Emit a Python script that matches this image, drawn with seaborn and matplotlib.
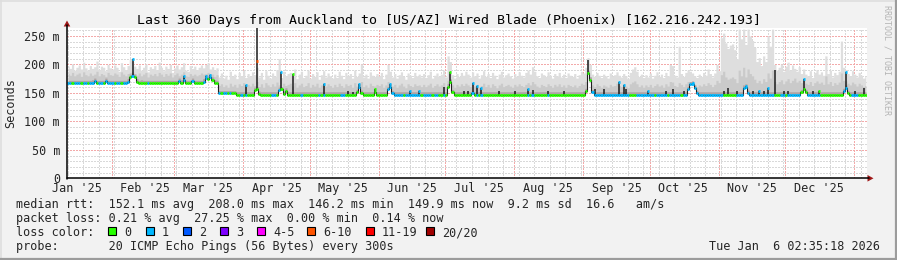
import matplotlib
matplotlib.use("Agg")
import matplotlib.pyplot as plt
import matplotlib.dates as mdates
from matplotlib.patches import Rectangle, Polygon
from matplotlib.lines import Line2D
import numpy as np
import pandas as pd
import seaborn as sns
from datetime import datetime, timedelta

# ---------------- data (one value per day, 360 days) ----------------
median_ms = [
    167,167,167,167,167,167,167,167,167,167,167,168,171,167,167,167,167,171,167,167,
    167,167,167,167,167,167,167,170,178,180,178,170,167,168,167,167,167,167,167,167,
    167,167,167,167,167,167,167,167,167,167,171,168,173,167,167,167,171,167,167,167,
    167,170,177,175,178,173,168,167,149,149,149,149,149,149,149,149,147,147,147,147,
    147,147,147,147,155,156,148,147,147,147,147,147,147,147,147,155,156,148,154,147,
    147,147,147,147,147,147,147,147,147,147,147,147,147,147,147,147,147,147,147,147,
    147,147,147,147,147,147,147,147,147,147,151,161,150,147,147,147,147,147,152,147,
    147,147,147,147,156,161,149,147,147,147,147,147,147,147,147,147,147,147,147,147,
    147,147,147,147,147,147,147,147,147,147,147,161,169,151,147,147,147,147,147,147,
    147,147,149,147,147,147,147,147,147,147,147,147,147,147,147,147,147,147,147,147,
    147,147,147,147,147,147,147,147,147,147,147,147,147,147,147,147,147,147,147,147,
    147,147,147,147,147,147,147,147,147,147,147,147,147,153,185,173,151,147,147,147,
    147,147,147,147,147,147,147,147,147,147,147,147,147,147,147,147,147,147,147,147,
    147,147,147,147,147,147,147,147,147,147,147,147,147,147,147,147,147,147,147,156,
    165,166,159,149,147,147,147,147,147,147,147,147,147,147,147,147,147,147,147,147,
    147,147,147,147,159,161,150,147,147,147,147,147,147,147,147,147,147,147,147,147,
    147,147,147,147,147,147,147,147,147,147,151,156,151,147,147,147,147,147,147,147,
    147,147,147,147,147,147,147,147,147,153,159,149,147,147,147,147,147,147,147,147,
]

# loss colour class per day (index into loss_labels)
loss_class = [
    1,1,0,1,1,1,0,1,1,0,1,1,1,0,1,1,0,1,1,1,
    1,0,1,1,0,1,1,1,0,1,0,0,0,0,0,0,1,0,0,0,
    0,0,0,0,0,0,0,0,0,0,1,0,1,0,0,0,1,0,0,0,
    0,1,1,0,1,0,0,0,1,0,1,1,0,1,0,0,0,0,1,0,
    1,0,0,0,0,0,0,0,0,0,0,0,1,1,0,1,0,0,0,0,
    0,0,0,0,0,1,0,0,0,0,0,0,0,1,0,1,0,0,0,0,
    0,0,0,1,1,0,0,0,0,0,0,1,0,0,0,0,0,0,0,0,
    0,0,0,0,1,1,1,1,1,1,1,0,1,1,1,1,1,1,1,0,
    1,1,1,1,0,1,1,0,0,1,0,0,0,0,0,0,0,0,0,0,
    0,0,1,0,1,0,1,0,0,0,0,0,0,0,0,0,0,0,0,0,
    0,0,0,0,0,0,0,1,0,1,0,0,0,0,0,0,1,0,0,0,
    0,0,0,0,0,0,0,0,0,0,0,0,0,0,0,0,1,1,1,1,
    1,1,1,1,1,1,1,1,1,1,1,1,1,0,0,0,1,1,1,1,
    1,1,1,1,0,1,1,1,1,1,0,1,1,1,1,1,0,1,1,1,
    1,1,1,1,1,1,1,1,1,1,1,1,1,1,1,0,0,0,0,0,
    0,1,1,1,1,1,1,1,1,1,1,1,1,1,1,1,1,1,0,0,
    0,1,1,0,1,1,1,1,1,1,0,0,0,1,1,1,1,1,1,0,
    0,0,0,0,0,0,0,0,0,1,1,0,0,1,1,1,0,0,0,0,
]

# upper edge of the light smoke (slowest pings), ms
smoke_max = [
    197,193,201,190,195,199,192,204,194,190,198,193,196,206,191,197,195,189,200,194,
    192,199,195,188,203,196,191,198,209,205,197,193,199,190,195,201,187,196,193,198,
    191,204,195,189,197,193,200,186,194,199,192,196,203,190,188,198,193,197,191,195,
    199,194,200,203,192,196,190,194,178,185,176,181,174,188,179,183,175,186,180,190,
    177,184,179,187,182,195,178,186,174,189,181,176,185,179,191,210,177,188,180,184,
    186,179,192,175,183,188,177,181,190,176,184,179,187,174,182,189,178,185,180,176,
    183,177,188,181,175,186,180,184,176,190,179,185,201,178,183,176,187,181,179,184,
    180,186,175,183,200,188,178,184,176,182,187,179,174,185,181,177,186,180,183,178,
    184,177,182,188,176,181,185,179,183,190,178,215,205,182,176,184,179,186,181,188,
    183,178,187,180,185,176,182,189,179,184,177,186,181,175,183,188,178,182,185,180,
    176,184,179,187,181,178,186,190,183,196,188,180,177,185,182,179,187,181,176,184,
    180,186,178,183,177,185,181,179,184,176,182,188,185,195,212,200,183,179,186,181,
    177,183,180,176,185,179,182,187,181,178,184,180,175,186,192,196,188,179,183,177,
    182,178,185,176,181,187,179,183,177,186,180,200,198,181,178,232,184,179,186,190,
    188,185,180,177,183,179,186,181,192,184,178,185,200,189,247,255,238,228,234,236,
    226,210,262,245,262,235,262,250,242,230,205,212,198,215,205,250,232,262,200,190,
    195,201,188,197,204,190,199,193,188,196,184,192,183,180,189,177,186,191,183,187,
    181,215,184,190,178,186,182,188,241,195,191,184,180,189,183,178,186,181,176,180,
]

# upper edge of the medium smoke, ms
smoke_mid = [
    184,181,186,180,183,185,179,187,182,180,185,181,183,188,180,184,182,179,186,182,
    181,185,183,179,187,183,180,184,186,188,184,181,185,180,183,186,178,183,181,184,
    180,186,183,179,184,181,185,178,182,185,180,183,187,180,179,184,181,183,180,182,
    185,183,184,186,181,183,179,182,163,166,161,164,160,167,162,165,160,166,163,168,
    161,165,162,167,163,170,161,166,160,168,164,161,166,162,169,164,161,167,163,165,
    167,162,168,160,164,167,161,163,168,160,165,162,167,160,164,168,162,166,163,160,
    165,161,167,163,160,166,163,165,160,168,162,166,170,161,164,160,167,163,162,165,
    163,166,160,164,170,167,162,165,160,164,167,162,159,166,163,161,166,163,164,161,
    165,161,164,167,160,163,166,162,164,168,161,172,175,164,160,165,162,166,163,167,
    164,161,166,162,165,160,163,167,161,165,160,166,163,159,164,167,161,163,165,162,
    160,165,162,166,163,161,165,168,164,170,166,162,160,165,163,161,166,163,160,165,
    162,166,161,164,160,165,163,161,164,160,163,167,165,170,186,178,164,161,166,163,
    160,164,162,160,165,162,163,167,163,161,165,162,159,166,169,171,166,161,164,160,
    164,161,165,160,163,166,162,164,160,166,162,170,169,163,161,168,165,161,166,170,
    170,168,164,161,164,162,166,163,168,165,161,165,172,168,182,188,178,174,176,178,
    175,168,190,180,195,178,192,184,180,174,168,172,167,175,170,185,176,190,170,166,
    170,173,166,171,175,168,172,176,169,172,168,173,167,165,170,163,168,171,167,169,
    165,180,166,170,163,168,165,169,185,172,171,167,164,169,166,162,167,164,161,163,
]

# short-lived median spikes: day index, top of the spike, loss-coloured cap (None = no cap)
spike_day = [29, 52, 62, 64, 80, 85, 96, 101, 115, 126, 128, 131, 138, 145, 154, 158,
             169, 172, 178, 180, 182, 184, 186, 194, 201, 207, 209, 216, 223, 234, 237,
             241, 248, 250, 251, 261, 269, 272, 277, 281, 295, 297, 301, 305, 308, 311,
             313, 315, 318, 322, 324, 331, 335, 338, 350, 354, 358]
spike_top = [209, 179, 180, 181, 164, 266, 187, 184, 166, 153, 152, 165, 156, 165, 153, 153,
             161, 186, 153, 154, 168, 162, 159, 154, 154, 156, 155, 153, 153, 207, 156,
             157, 170, 164, 157, 153, 153, 156, 153, 168, 153, 158, 153, 163, 153, 154,
             153, 159, 190, 154, 153, 175, 153, 154, 187, 154, 158]
spike_cap = [209, 179, 180, 181, 164, 206, 187, 184, 166, None, None, 165, 156, 165, 153, 153,
             None, 186, None, None, 168, 162, 159, None, None, 156, None, None, None, None, None,
             None, 170, 164, None, 153, None, None, None, 168, None, None, None, 163, None, 154,
             None, 159, None, None, None, 175, None, 154, 187, None, None]
spike_loss = [1, 1, 1, 1, 1, 5, 1, 0, 1, 0, 0, 1, 0, 1, 1, 1,
              0, 0, 0, 0, 1, 1, 1, 0, 0, 1, 0, 0, 0, 0, 0,
              0, 1, 1, 0, 1, 0, 0, 0, 1, 0, 0, 0, 1, 0, 1,
              0, 1, 0, 0, 0, 1, 0, 0, 1, 0, 0]

loss_labels = ["0", "1", "2", "3", "4-5", "6-10", "11-19", "20/20"]
loss_colors = ["#26ff00", "#00b8ff", "#0059ff", "#7e00ff", "#ff00ff", "#ff5500", "#ff0000", "#a00000"]

month_labels = ["Jan '25", "Feb '25", "Mar '25", "Apr '25", "May '25", "Jun '25",
                "Jul '25", "Aug '25", "Sep '25", "Oct '25", "Nov '25", "Dec '25"]
ytick_values = [0, 50, 100, 150, 200, 250]
ytick_labels = ["0", "50 m", "100 m", "150 m", "200 m", "250 m"]

title = "Last 360 Days from Auckland to [US/AZ] Wired Blade (Phoenix) [162.216.242.193]"
legend_lines = [
    "median rtt:  152.1 ms avg  208.0 ms max  146.2 ms min  149.9 ms now  9.2 ms sd  16.6   am/s",
    "packet loss: 0.21 % avg  27.25 % max  0.00 % min  0.14 % now",
]
probe_text = "probe:       20 ICMP Echo Pings (56 Bytes) every 300s"
stamp_text = "Tue Jan  6 02:35:18 2026"

assert len(median_ms) == 360 and len(loss_class) == 360
assert len(smoke_max) == 360 and len(smoke_mid) == 360
assert len(spike_day) == len(spike_top) == len(spike_cap) == len(spike_loss)

# ---------------- drawing ----------------
sns.set_theme(style="white")
plt.rcParams["font.family"] = ["DejaVu Sans Mono", "DejaVu Sans"]
FS = 8.45

W, H = 897, 260
BG = "#f2f2f2"
fig = plt.figure(figsize=(W / 100, H / 100), dpi=100, facecolor=BG)


def fx(px):
    return px / W


def fy(py):
    return 1 - py / H


X0, X1, Y0, Y1 = 67, 867, 28, 178.3
ax = fig.add_axes([fx(X0), fy(Y1), (X1 - X0) / W, (Y1 - Y0) / H])
ax.set_facecolor("white")
for s in ax.spines.values():
    s.set_visible(False)

start = mdates.date2num(datetime(2025, 1, 11, 18, 0))
end = start + 360
days = np.arange(len(median_ms))
xd = start + days + 0.5
df = pd.DataFrame({"t": xd, "median": median_ms, "hi": smoke_max, "mid": smoke_mid,
                   "loss": loss_class})
ax.set_xlim(start, end)
ax.set_ylim(0, 264)

# grid
dot = (0, (1, 1))
gkw = dict(lw=0.75, ls=dot, antialiased=False)
for v in range(10, 264, 10):
    if v % 50:
        ax.axhline(v, color="#d9d9d9", zorder=0.5, **gkw)
d = datetime(2025, 1, 12)
while mdates.date2num(d) < end:
    ax.axvline(mdates.date2num(d), color="#d9d9d9", zorder=0.5, **gkw)
    d += timedelta(days=7)
for v in range(50, 264, 50):
    ax.axhline(v, color="#f3aaaa", zorder=0.6, **gkw)
for m in range(2, 14):
    yr = 2025 + (m - 1) // 12
    mm = (m - 1) % 12 + 1
    ax.axvline(mdates.date2num(datetime(yr, mm, 1)), color="#f3aaaa", zorder=0.6, **gkw)

# smoke
ax.fill_between(df["t"], df["median"], df["hi"], step="mid", color="#dedede", lw=0, zorder=1)
ax.fill_between(df["t"], df["median"], df["mid"], step="mid", color="#cacaca", lw=0, zorder=1.1)
ax.fill_between(df["t"], df["median"], df["median"] + 5, step="mid", color="#aea4a4", lw=0, zorder=1.2)

# median path
sns.lineplot(data=df, x="t", y="median", ax=ax, color="#202020", lw=0.8,
             drawstyle="steps-mid", errorbar=None, legend=False, zorder=2)
ax.set_xlabel("")
ax.set_ylabel("")

# spikes
sx = start + np.array(spike_day) + 0.5
sbase = [median_ms[i] for i in spike_day]
ax.vlines(sx, sbase, spike_top, color="#1c1c1c", lw=1.1, zorder=2.2)

# loss coloured median band
ax.hlines(df["median"], df["t"] - 0.5, df["t"] + 0.5,
          colors=[loss_colors[c] for c in loss_class], lw=2.0, zorder=3)
caps = [(x, c, loss_colors[l]) for x, c, l in zip(sx, spike_cap, spike_loss) if c is not None]
ax.hlines([c[1] for c in caps], [c[0] - 0.45 for c in caps], [c[0] + 0.45 for c in caps],
          colors=[c[2] for c in caps], lw=2.0, zorder=3.1)

# ticks
mid_month = [mdates.date2num(datetime(2025, m, 16)) for m in range(1, 13)]
ax.set_xticks(mid_month)
ax.set_xticklabels(month_labels, fontsize=FS)
ax.set_yticks(ytick_values)
ax.set_yticklabels(ytick_labels, fontsize=FS)
ax.tick_params(axis="x", length=0, pad=2.6)
ax.tick_params(axis="y", length=0, pad=5.0)
ax.grid(False)

# axes lines and arrows
axc = "#000000"
arc = "#a01818"
fig.add_artist(Line2D([fx(X0), fx(869)], [fy(Y1), fy(Y1)], color=axc, lw=1.1))
fig.add_artist(Line2D([fx(X0), fx(X0)], [fy(Y1 + 1), fy(25)], color=axc, lw=1.1))
fig.add_artist(Polygon([(fx(867.5), fy(175)), (fx(867.5), fy(181.6)), (fx(873.5), fy(178.3))],
                       closed=True, color=arc, lw=0))
fig.add_artist(Polygon([(fx(63.7), fy(26.5)), (fx(70.3), fy(26.5)), (fx(67), fy(20.5))],
                       closed=True, color=arc, lw=0))

# frame
fig.add_artist(Line2D([0, 1], [fy(0.5), fy(0.5)], color="#dedede", lw=1.2))
fig.add_artist(Line2D([fx(0.5), fx(0.5)], [0, 1], color="#dedede", lw=1.2))
fig.add_artist(Line2D([0, 1], [fy(259), fy(259)], color="#9c9c9c", lw=1.6))
fig.add_artist(Line2D([fx(896), fx(896)], [0, 1], color="#9c9c9c", lw=1.6))

# texts
fig.text(0.5, fy(24.3), title, ha="center", va="baseline", fontsize=9.55, color="black")
fig.text(fx(11), fy(103), "Seconds", rotation=90, ha="center", va="center", fontsize=FS)
fig.text(fx(887), fy(60), "RRDTOOL / TOBI OETIKER", rotation=270, ha="center", va="center",
         fontsize=6.0, color="#b4b4b4")

fig.text(fx(16), fy(208.3), legend_lines[0], ha="left", va="baseline", fontsize=FS)
fig.text(fx(16), fy(222.3), legend_lines[1], ha="left", va="baseline", fontsize=FS)
fig.text(fx(16), fy(236), "loss color:", ha="left", va="baseline", fontsize=FS)
box_x = [108, 146, 183, 220, 257, 307, 366, 426]
for bx, lab, col in zip(box_x, loss_labels, loss_colors):
    fig.add_artist(Rectangle((fx(bx), fy(235)), 8 / W, 8 / H, transform=fig.transFigure,
                             facecolor=col, edgecolor="black", lw=0.8))
    fig.text(fx(bx + 16), fy(236), lab, ha="left", va="baseline", fontsize=FS)
fig.text(fx(16), fy(250), probe_text, ha="left", va="baseline", fontsize=FS)
fig.text(fx(880), fy(250), stamp_text, ha="right", va="baseline", fontsize=FS)

fig.savefig("out.png", dpi=100, facecolor=BG)
